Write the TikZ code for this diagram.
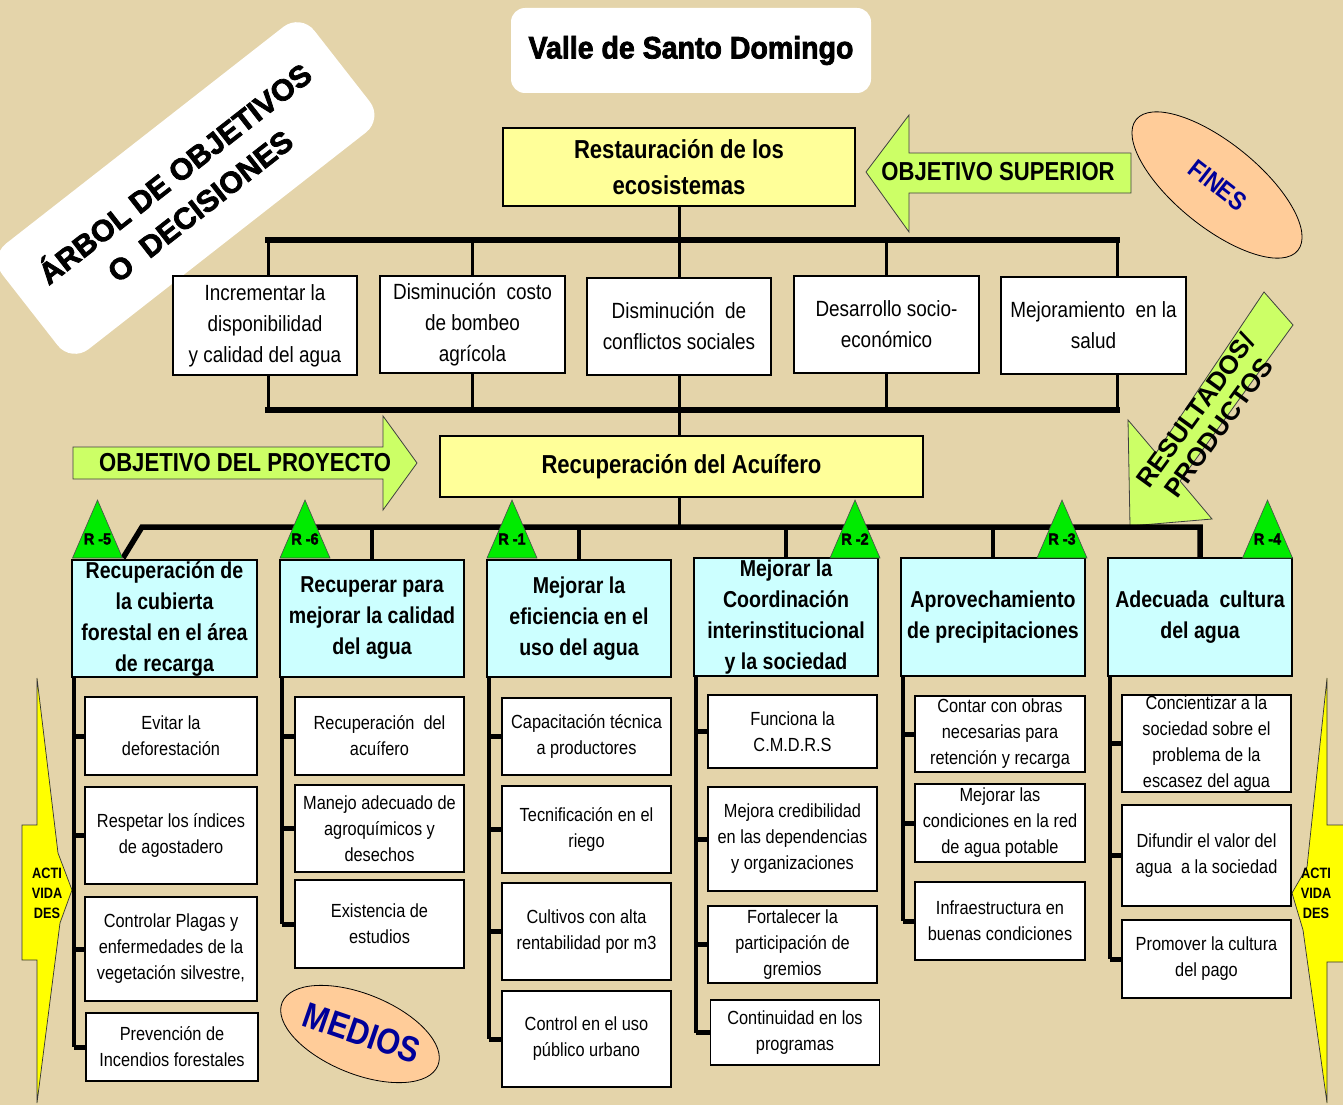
\documentclass[tikz,border=0pt]{standalone}
\usepackage{fontspec}
\setmainfont{Liberation Sans}
\newfontfamily\fnar{Liberation Sans}[FakeStretch=0.86]
\newfontfamily\fbn{Liberation Sans}[FakeStretch=0.85]
\newfontfamily\fblk{Liberation Sans}[FakeBold=2.5]
\newfontfamily\ftit{Liberation Sans}[FakeBold=2.5,FakeStretch=0.92]
\newfontfamily\ftri{Liberation Sans}[FakeBold=2,FakeStretch=0.9]
\usetikzlibrary{calc}
\definecolor{parch}{RGB}{228,212,170}
\definecolor{ylw}{RGB}{255,255,153}
\definecolor{lgreen}{RGB}{204,255,102}
\definecolor{lblue}{RGB}{204,255,255}
\definecolor{tgreen}{RGB}{0,235,0}
\definecolor{actyel}{RGB}{255,255,0}
\definecolor{peach}{RGB}{255,204,153}
\definecolor{navy}{RGB}{0,0,153}
\begin{document}
\begin{tikzpicture}[x=1pt,y=-1pt,
  box/.style={draw=black, line width=1.3pt, fill=white, inner sep=0pt, outer sep=0pt, align=center, text=black},
  topbox/.style={box, font=\fnar\fontsize{22}{31}\selectfont},
  actbox/.style={box, font=\fnar\fontsize{19}{26}\selectfont},
  bluebox/.style={box, fill=lblue, font=\fbn\bfseries\fontsize{23}{31}\selectfont},
  yelbox/.style={box, fill=ylw, font=\fbn\bfseries\fontsize{26}{36}\selectfont},
  bigarrow/.style={fill=lgreen, draw=black!75, line width=0.8pt},
  actarrow/.style={fill=actyel, draw=black!80, line width=0.7pt},
  bus/.style={line width=5.5pt, line cap=rect},
  conn/.style={line width=3pt},
  vline/.style={line width=4pt},
  stub/.style={line width=5pt},
  tri/.style={fill=tgreen, draw=black!70, line width=0.6pt},
  trilabel/.style={font=\ftri\bfseries\fontsize{16}{16}\selectfont, inner sep=0pt},
  acttext/.style={font=\fbn\bfseries\fontsize{15}{20}\selectfont, align=center, inner sep=0pt},
  ovaltext/.style={font=\fbn\bfseries, text=navy, inner sep=0pt}
]
% background
\fill[parch] (0,0) rectangle (1343,1105);
\useasboundingbox (0,0) rectangle (1343,1105);

% title
\node[fill=white, rounded corners=14, minimum width=360, minimum height=85, inner sep=0pt,
  font=\ftit\bfseries\fontsize{31}{31}\selectfont] (title) at (691,50.5) {Valle de Santo Domingo};

% rotated label
\node[fill=white, rounded corners=22, minimum width=396, minimum height=134, inner sep=0pt,
  rotate=38, align=center, font=\fblk\bfseries\fontsize{30}{41}\selectfont] (arbol) at (186,188)
  {ÁRBOL DE OBJETIVOS\\O\ \ DECISIONES};

% ovals
\draw[fill=peach, draw=black, line width=0.8pt, rotate around={-39:(1217,185)}] (1217,185) ellipse [x radius=104, y radius=42];
\node[ovaltext, font=\fbn\bfseries\fontsize{26}{26}\selectfont, rotate=-38] (fines) at (1218,185) {FINES};
\draw[fill=peach, draw=black, line width=0.8pt, rotate around={-22:(360,1034)}] (360,1034) ellipse [x radius=84, y radius=40];
\node[ovaltext, font=\fbn\bfseries\fontsize{36}{36}\selectfont, rotate=-19] (medios) at (362,1033) {MEDIOS};

% green arrows
\draw[bigarrow] (866,172) -- (909,115) -- (909,153) -- (1131,153) -- (1131,193) -- (909,193) -- (909,232) -- cycle;
\node[font=\fbn\bfseries\fontsize{26}{26}\selectfont, inner sep=0pt] (objsup) at (998,172) {OBJETIVO SUPERIOR};
\draw[bigarrow] (73,447) -- (383,447) -- (383,416) -- (417,463) -- (383,510) -- (383,479) -- (73,479) -- cycle;
\node[font=\fbn\bfseries\fontsize{26}{26}\selectfont, inner sep=0pt] (objpro) at (245,463) {OBJETIVO DEL PROYECTO};
\draw[bigarrow] (1264,292) -- (1156,453) -- (1128,420) -- (1130,526) -- (1212,519) -- (1180,481) -- (1293,325) -- cycle;
\node[rotate=54, align=center, inner sep=0pt, font=\bfseries\fontsize{26}{29}\selectfont] (res) at (1207,419) {RESULTADOS/\\PRODUCTOS};

% activity arrows
\draw[actarrow] (37,678) -- (58,853) -- (72,890) -- (60,923) -- (37,1103) -- (37,960) -- (22,960) -- (22,825) -- (37,825) -- cycle;
\node[acttext] (actl) at (47,893) {ACTI\\VIDA\\DES};
\draw[actarrow] (1327,678) -- (1307,867) -- (1292,893) -- (1303,930) -- (1327,1103) -- (1327,962) -- (1345,962) -- (1345,825) -- (1327,825) -- cycle;
\node[acttext] (actr) at (1316,893) {ACTI\\VIDA\\DES};

% top level
\node[yelbox, minimum width=352, minimum height=78] (rest) at (679,167) {Restauración de los\\ecosistemas};
\node[topbox, minimum width=184, minimum height=99] (w1) at (265,325.5) {Incrementar la\\disponibilidad\\y calidad del agua};
\node[topbox, minimum width=185, minimum height=97] (w2) at (472.5,324.5) {Disminución\ \ costo\\de bombeo\\agrícola};
\node[topbox, minimum width=184, minimum height=97] (w3) at (679,326.5) {Disminución\ \ de\\conflictos sociales};
\node[topbox, minimum width=185, minimum height=97] (w4) at (886.5,324.5) {Desarrollo socio-\\económico};
\node[topbox, minimum width=185, minimum height=97] (w5) at (1093.5,325.5) {Mejoramiento\ \ en la\\salud};
\node[yelbox, minimum width=483, minimum height=61] (recu) at (681.5,466.5) {Recuperación del Acuífero};

% connectors top
\coordinate (tb1) at (268,240);
\coordinate (tb2) at (1117,240);
\draw[conn] (rest.south) -- (rest.south |- tb1);
\draw[conn] (tb1) -- (tb1 |- w1.north);
\draw[conn] (w2.north |- tb1) -- (w2.north);
\draw[conn] (w3.north |- tb1) -- (w3.north);
\draw[conn] (w4.north |- tb1) -- (w4.north);
\draw[conn] (tb2) -- (tb2 |- w5.north);
\draw[bus] (tb1) -- (tb2);
\coordinate (bb1) at (268,410);
\coordinate (bb2) at (1117,410);
\draw[conn] (bb1 |- w1.south) -- (bb1);
\draw[conn] (w2.south) -- (w2.south |- bb1);
\draw[conn] (w3.south) -- (w3.south |- bb1);
\draw[conn] (w4.south) -- (w4.south |- bb1);
\draw[conn] (bb2 |- w5.south) -- (bb2);
\draw[conn] (w3.south |- bb1) -- (w3.south |- recu.north);
\draw[bus] (bb1) -- (bb2);

% blue boxes
\node[bluebox, minimum width=185, minimum height=117] (B1) at (164.5,618.5) {Recuperación de\\la cubierta\\forestal en el área\\de recarga};
\node[bluebox, minimum width=184, minimum height=117] (B2) at (372,618.5) {Recuperar para\\mejorar la calidad\\del agua};
\node[bluebox, minimum width=184, minimum height=117] (B3) at (579,618.5) {Mejorar la\\eficiencia en el\\uso del agua};
\node[bluebox, minimum width=184, minimum height=118] (B4) at (786,617) {Mejorar la\\Coordinación\\interinstitucional\\y la sociedad};
\node[bluebox, minimum width=184, minimum height=118] (B5) at (993,617) {Aprovechamiento\\de precipitaciones};
\node[bluebox, minimum width=184, minimum height=118] (B6) at (1200,617) {Adecuada\ \ cultura\\del agua};

% lower bus
\coordinate (lb00) at (123,558);
\coordinate (lb0) at (142,527);
\coordinate (lb6) at (1200,527);
\draw[conn] (recu.south -| w3.south) -- (w3.south |- lb0);
\draw[vline] (B2.north |- lb0) -- (B2.north);
\draw[vline] (B3.north |- lb0) -- (B3.north);
\draw[vline] (B4.north |- lb0) -- (B4.north);
\draw[vline] (B5.north |- lb0) -- (B5.north);
\draw[line width=5.5pt, line join=miter] (lb00) -- (lb0) -- (lb6) -- (lb6 |- B6.north);

% triangles
\foreach \x/\l in {97.5/5, 305/6, 512/1, 855/2, 1062/3, 1267.5/4} {
  \draw[tri] (\x-25,558) -- (\x,500) -- (\x+25,558) -- cycle;
  \node[trilabel] (r\l) at (\x,539) {R -\l};
}

% activities column 1
\node[actbox, minimum width=172, minimum height=78] (a11) at (171,736) {Evitar la\\deforestación};
\node[actbox, minimum width=172, minimum height=97] (a12) at (171,835.5) {Respetar los índices\\de agostadero};
\node[actbox, minimum width=172, minimum height=104] (a13) at (171,949) {Controlar Plagas y\\enfermedades de la\\vegetación silvestre,};
\node[actbox, minimum width=172, minimum height=68] (a14) at (172,1047) {Prevención de\\Incendios forestales};
% column 2
\node[actbox, minimum width=169, minimum height=78] (a21) at (379.5,736) {Recuperación\ \ del\\acuífero};
\node[actbox, minimum width=169, minimum height=87] (a22) at (379.5,828.5) {Manejo adecuado de\\agroquímicos y\\desechos};
\node[actbox, minimum width=169, minimum height=88] (a23) at (379.5,924) {Existencia de\\estudios};
% column 3
\node[actbox, minimum width=169, minimum height=77] (a31) at (586.5,736.5) {Capacitación técnica\\a productores};
\node[actbox, minimum width=169, minimum height=87] (a32) at (586.5,829.5) {Tecnificación en el\\riego};
\node[actbox, minimum width=169, minimum height=97] (a33) at (586.5,931.5) {Cultivos con alta\\rentabilidad por m3};
\node[actbox, minimum width=169, minimum height=96] (a34) at (586.5,1039) {Control en el uso\\público urbano};
% column 4
\node[actbox, minimum width=169, minimum height=73] (a41) at (792.5,731.5) {Funciona la\\C.M.D.R.S};
\node[actbox, minimum width=169, minimum height=104] (a42) at (792.5,839) {Mejora credibilidad\\en las dependencias\\y organizaciones};
\node[actbox, minimum width=169, minimum height=77] (a43) at (792.5,944.5) {Fortalecer la\\participación de\\gremios};
\node[actbox, minimum width=169, minimum height=65] (a44) at (795,1032.5) {Continuidad en los\\programas};
% column 5
\node[actbox, minimum width=170, minimum height=76] (a51) at (1000,734) {Contar con obras\\necesarias para\\retención y recarga};
\node[actbox, minimum width=170, minimum height=78] (a52) at (1000,823) {Mejorar las\\condiciones en la red\\de agua potable};
\node[actbox, minimum width=170, minimum height=78] (a53) at (1000,921) {Infraestructura en\\buenas condiciones};
% column 6
\node[actbox, minimum width=169, minimum height=97] (a61) at (1206.5,743.5) {Concientizar a la\\sociedad sobre el\\problema de la\\escasez del agua};
\node[actbox, minimum width=169, minimum height=101] (a62) at (1206.5,855.5) {Difundir el valor del\\agua\ \ a la sociedad};
\node[actbox, minimum width=169, minimum height=78] (a63) at (1206.5,959) {Promover la cultura\\del pago};

% column connectors
\coordinate (v1) at ($(B1.south west)+(1.5,0)$);
\coordinate (v2) at ($(B2.south west)+(1.5,0)$);
\coordinate (v3) at ($(B3.south west)+(1.5,0)$);
\coordinate (v4) at ($(B4.south west)+(1.5,0)$);
\coordinate (v5) at ($(B5.south west)+(1.5,0)$);
\coordinate (v6) at ($(B6.south west)+(1.5,0)$);
\draw[vline] (v1) -- (v1 |- a14.west);
\foreach \n in {a11,a12,a13,a14} \draw[stub] (v1 |- \n.west) -- (\n.west);
\draw[vline] (v2) -- (v2 |- a23.west);
\foreach \n in {a21,a22,a23} \draw[stub] (v2 |- \n.west) -- (\n.west);
\draw[vline] (v3) -- (v3 |- a34.west);
\foreach \n in {a31,a32,a33,a34} \draw[stub] (v3 |- \n.west) -- (\n.west);
\draw[vline] (v4) -- (v4 |- a44.west);
\foreach \n in {a41,a42,a43,a44} \draw[stub] (v4 |- \n.west) -- (\n.west);
\draw[vline] (v5) -- (v5 |- a53.west);
\foreach \n in {a51,a52,a53} \draw[stub] (v5 |- \n.west) -- (\n.west);
\draw[vline] (v6) -- (v6 |- a63.west);
\foreach \n in {a61,a62,a63} \draw[stub] (v6 |- \n.west) -- (\n.west);
\end{tikzpicture}
\end{document}
